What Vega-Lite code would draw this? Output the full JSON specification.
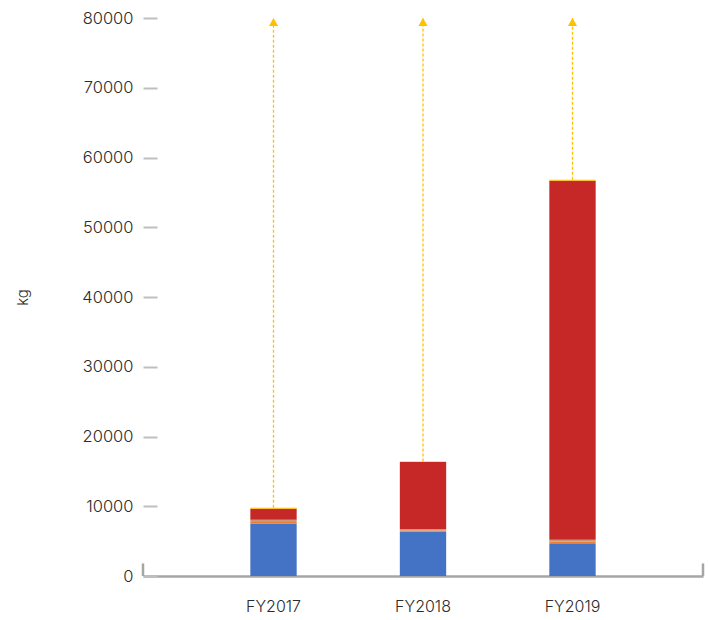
{
  "$schema": "https://vega.github.io/schema/vega-lite/v6.json",
  "width": 560,
  "height": 558,
  "autosize": "none",
  "padding": {"left": 143, "top": 18, "right": 5, "bottom": 44},
  "background": "white",
  "config": {"view": {"stroke": null}, "font": "Inter"},
  "datasets": {
    "stack": [
      {"year": "FY2017", "series": "A", "ord": 1, "value": 7500},
      {"year": "FY2017", "series": "B", "ord": 2, "value": 250},
      {"year": "FY2017", "series": "C", "ord": 3, "value": 300},
      {"year": "FY2017", "series": "D", "ord": 4, "value": 1580},
      {"year": "FY2017", "series": "E", "ord": 5, "value": 150},
      {"year": "FY2018", "series": "A", "ord": 1, "value": 6350},
      {"year": "FY2018", "series": "B", "ord": 2, "value": 180},
      {"year": "FY2018", "series": "C", "ord": 3, "value": 200},
      {"year": "FY2018", "series": "D", "ord": 4, "value": 9600},
      {"year": "FY2018", "series": "E", "ord": 5, "value": 100},
      {"year": "FY2019", "series": "A", "ord": 1, "value": 4590},
      {"year": "FY2019", "series": "B", "ord": 2, "value": 330},
      {"year": "FY2019", "series": "C", "ord": 3, "value": 290},
      {"year": "FY2019", "series": "D", "ord": 4, "value": 51470},
      {"year": "FY2019", "series": "E", "ord": 5, "value": 143}
    ],
    "totals": [
      {"year": "FY2017", "total": 9780, "top": 80000},
      {"year": "FY2018", "total": 16430, "top": 80000},
      {"year": "FY2019", "total": 56823, "top": 80000}
    ],
    "edges": [
      {"pos": 0, "lo": 0, "hi": 1800},
      {"pos": 1, "lo": 0, "hi": 1800}
    ]
  },
  "resolve": {"scale": {"x": "independent"}, "axis": {"x": "independent"}},
  "layer": [
    {
      "layer": [
        {
          "data": {"name": "stack"},
          "mark": {"type": "bar"},
          "encoding": {
            "x": {
              "field": "year", "type": "nominal",
              "scale": {"paddingInner": 0.69, "paddingOuter": 0.718},
              "axis": {"title": null, "domainColor": "#A6A6A6", "domainWidth": 2.5, "ticks": false, "labelAngle": 0, "labelFontSize": 16, "labelFontWeight": 300, "labelColor": "#2b2b2b", "labelPadding": 22}
            },
            "y": {
              "field": "value", "type": "quantitative", "aggregate": "sum",
              "scale": {"domain": [0, 80000]},
              "axis": {"title": "kg", "format": "d", "titleFontWeight": 300, "titleFontSize": 15, "titleColor": "#2b2b2b", "titlePadding": 51, "domain": false, "grid": false, "tickCount": 8, "tickSize": -14, "tickColor": "#BFBFBF", "tickWidth": 2, "labelFontSize": 16.5, "labelFontWeight": 300, "labelColor": "#2b2b2b", "labelPadding": 24}
            },
            "color": {
              "field": "series", "type": "nominal",
              "scale": {"domain": ["A", "B", "C", "D", "E"], "range": ["#4472C4", "#ED7D31", "#C49A7E", "#C62828", "#FFC000"]},
              "legend": null
            },
            "order": {"field": "ord", "type": "quantitative"}
          }
        },
        {
          "data": {"name": "totals"},
          "mark": {"type": "rule", "color": "#FFC000", "strokeDash": [3, 2], "strokeWidth": 1.3},
          "encoding": {
            "x": {"field": "year", "type": "nominal"},
            "y": {"field": "total", "type": "quantitative"},
            "y2": {"field": "top"}
          }
        },
        {
          "data": {"name": "totals"},
          "mark": {"type": "point", "shape": "triangle-up", "filled": true, "color": "#FFC000", "size": 85, "yOffset": 4, "opacity": 1},
          "encoding": {
            "x": {"field": "year", "type": "nominal"},
            "y": {"field": "top", "type": "quantitative"}
          }
        }
      ]
    },
    {
      "data": {"name": "edges"},
      "mark": {"type": "rule", "color": "#A6A6A6", "strokeWidth": 2.5},
      "encoding": {
        "x": {"field": "pos", "type": "quantitative", "scale": {"domain": [0, 1], "nice": false, "zero": false}, "axis": null},
        "y": {"field": "lo", "type": "quantitative"},
        "y2": {"field": "hi"}
      }
    }
  ]
}
